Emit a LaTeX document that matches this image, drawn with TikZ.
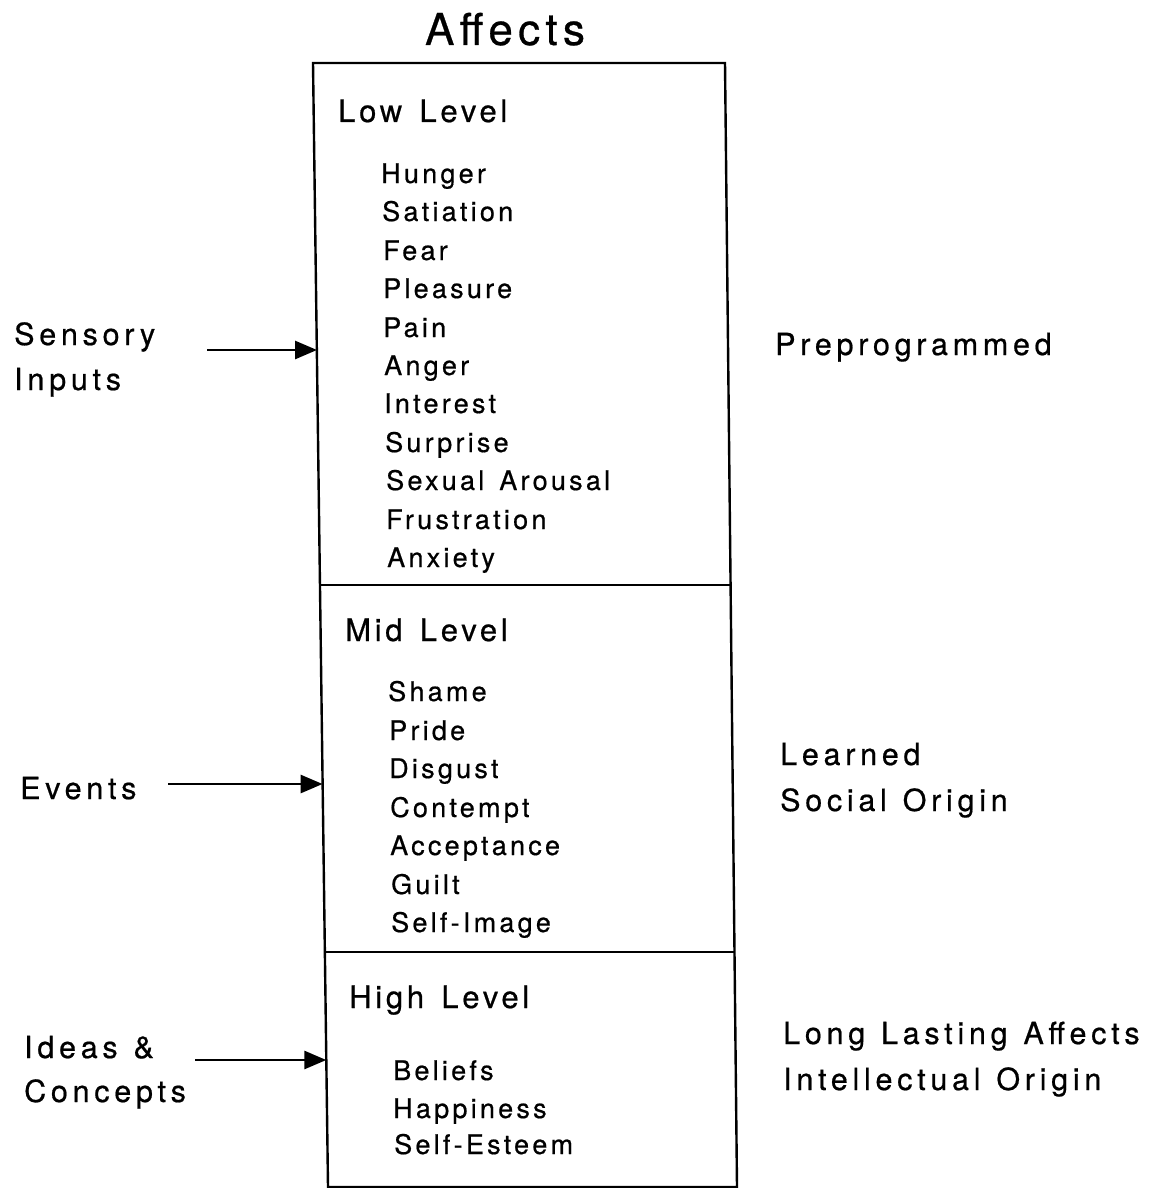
\documentclass[tikz,border=0pt]{standalone}
\usepackage{fontspec}
\setmainfont{TeX Gyre Heros}
\newfontfamily\lvlfont[LetterSpace=12,WordSpace=1.4,FakeBold=0.6]{TeX Gyre Heros}
\newfontfamily\sidefont[LetterSpace=15.5,WordSpace=1.2,FakeBold=0.6]{TeX Gyre Heros}
\usetikzlibrary{arrows.meta}

\begin{document}
\begin{tikzpicture}[x=1pt,y=-1pt,
  txt/.style={anchor=base west,inner sep=0pt},
  item/.style={txt,font=\lvlfont\fontsize{27}{30}\selectfont},
  level/.style={txt,font=\lvlfont\fontsize{31}{34}\selectfont},
  side/.style={txt,font=\sidefont\fontsize{30.5}{34}\selectfont},
  feed/.style={line width=2.8pt,-{Triangle[length=22pt,width=18pt]}}]
\useasboundingbox (0,0) rectangle (1160,1188);

% Corners of the (slightly skewed) affect column
\coordinate (tl) at (313,63);   \coordinate (tr) at (725,63);
\coordinate (ml) at (320,585);  \coordinate (mr) at (731,585);
\coordinate (hl) at (325,952);  \coordinate (hr) at (734,952);
\coordinate (bl) at (328,1187); \coordinate (br) at (737,1187);

% Draw the column and the level dividers
\draw[line width=2.4pt] (tl) -- (tr) -- (br) -- (bl) -- cycle;
\draw[line width=2.4pt] (ml) -- (mr);
\draw[line width=2.4pt] (hl) -- (hr);

% Title
\node[anchor=base,inner sep=0pt,font=\lvlfont\fontsize{44}{48}\selectfont] (title) at (505,45) {Affects};

% Low level affects
\node[level] (low) at (338,122) {Low Level};
\node[item] (hunger) at (381,183) {Hunger};
\node[item] (satiation) at (382,221) {Satiation};
\node[item] (fear) at (383,260) {Fear};
\node[item] (pleasure) at (383,298) {Pleasure};
\node[item] (pain) at (383,337) {Pain};
\node[item] (anger) at (384,375) {Anger};
\node[item] (interest) at (384,413) {Interest};
\node[item] (surprise) at (385,452) {Surprise};
\node[item] (arousal) at (386,490) {Sexual Arousal};
\node[item] (frustration) at (386,529) {Frustration};
\node[item] (anxiety) at (387,567) {Anxiety};

% Mid level affects
\node[level] (mid) at (345,641) {Mid Level};
\node[item] (shame) at (388,701) {Shame};
\node[item] (pride) at (389,740) {Pride};
\node[item] (disgust) at (389,778) {Disgust};
\node[item] (contempt) at (390,817) {Contempt};
\node[item] (acceptance) at (390,855) {Acceptance};
\node[item] (guilt) at (391,894) {Guilt};
\node[item] (selfimage) at (391,932) {Self-Image};

% High level affects
\node[level] (high) at (349,1008) {High Level};
\node[item] (beliefs) at (393,1080) {Beliefs};
\node[item] (happiness) at (393,1118) {Happiness};
\node[item] (selfesteem) at (394,1154) {Self-Esteem};

% Inputs on the left
\node[side] (sensory) at (14,345) {Sensory};
\node[side] (inputs) at (14,390) {Inputs};
\node[side] (events) at (20,799) {Events};
\node[side] (ideas) at (24,1058) {Ideas \&};
\node[side] (concepts) at (24,1102) {Concepts};

% Arrows into the column
\coordinate (sensfrom) at (207,350); \coordinate (sensto) at (317,350);
\coordinate (evfrom) at (168,784);   \coordinate (evto) at (322.6,784);
\coordinate (idfrom) at (195,1060);  \coordinate (idto) at (326.3,1060);
\draw[feed] (sensfrom) -- (sensto);
\draw[feed] (evfrom) -- (evto);
\draw[feed] (idfrom) -- (idto);

% Origins on the right
\node[side] (prepro) at (775,355) {Preprogrammed};
\node[side] (learned) at (780,765) {Learned};
\node[side] (social) at (780,811) {Social Origin};
\node[side] (lasting) at (783,1044) {Long Lasting Affects};
\node[side] (intellect) at (783,1090) {Intellectual Origin};
\end{tikzpicture}
\end{document}
